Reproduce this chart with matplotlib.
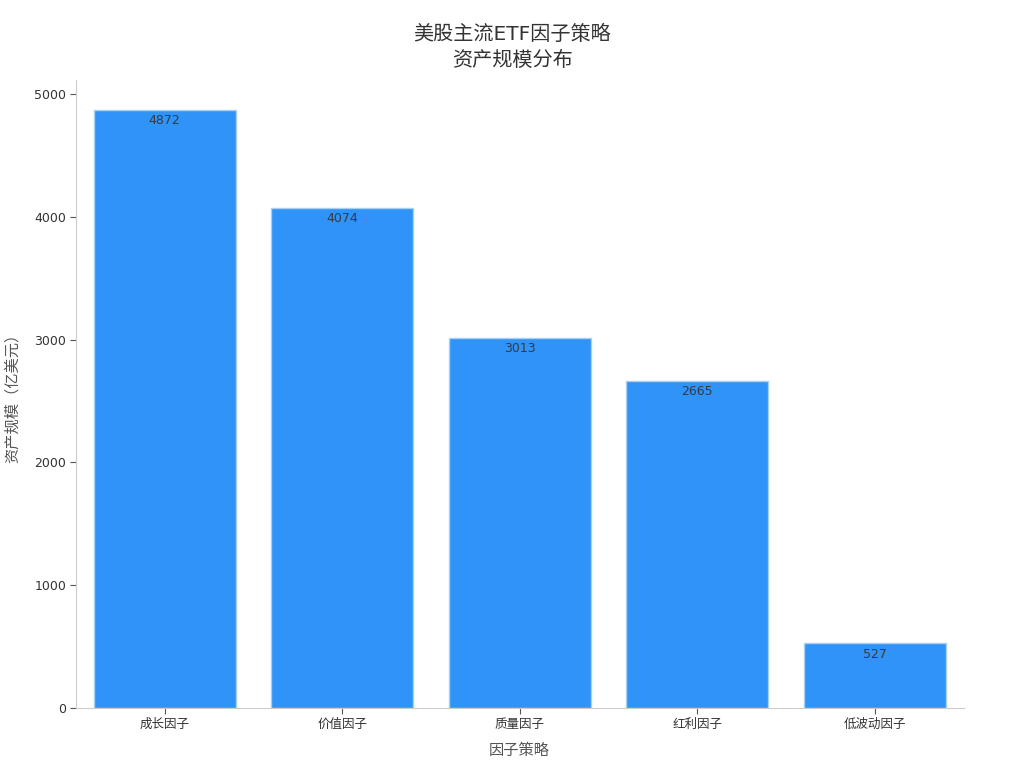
import matplotlib
matplotlib.use('Agg')
import matplotlib.pyplot as plt

plt.rcParams['font.family'] = ['DejaVu Sans', 'Noto Sans CJK SC']

# data
categories = ['成长因子', '价值因子', '质量因子', '红利因子', '低波动因子']
aum = [4872, 4074, 3013, 2665, 527]

fig, ax = plt.subplots(figsize=(10.24, 7.68), dpi=100)
fig.subplots_adjust(left=0.074, right=0.941, top=0.896, bottom=0.078)

bars = ax.bar(categories, aum, width=0.8, color='#2f93f7',
              edgecolor='#a8d0f5', linewidth=1)

# value labels just inside the bar tops
for b, v in zip(bars, aum):
    ax.text(b.get_x() + b.get_width() / 2, v - 35, str(v),
            ha='center', va='top', fontsize=9, color='#3a3a3a')

ax.set_xlim(-0.5, len(categories) - 0.5)
ax.set_ylim(0, max(aum) * 1.05)
ax.set_yticks([0, 1000, 2000, 3000, 4000, 5000])

fig.suptitle('美股主流ETF因子策略\n资产规模分布', x=0.5, y=0.968, va='top',
             fontsize=14.5, color='#333333', linespacing=1.45)
ax.set_xlabel('因子策略', fontsize=11, color='#555555', labelpad=9)
ax.set_ylabel('资产规模（亿美元）', fontsize=11, color='#555555', labelpad=10)

for s in ['top', 'right']:
    ax.spines[s].set_visible(False)
for s in ['left', 'bottom']:
    ax.spines[s].set_color('#cccccc')
ax.tick_params(colors='#333333', labelsize=9, length=4, pad=3)
ax.tick_params(axis='both', color='#555555')

fig.savefig('out.png', dpi=100)
